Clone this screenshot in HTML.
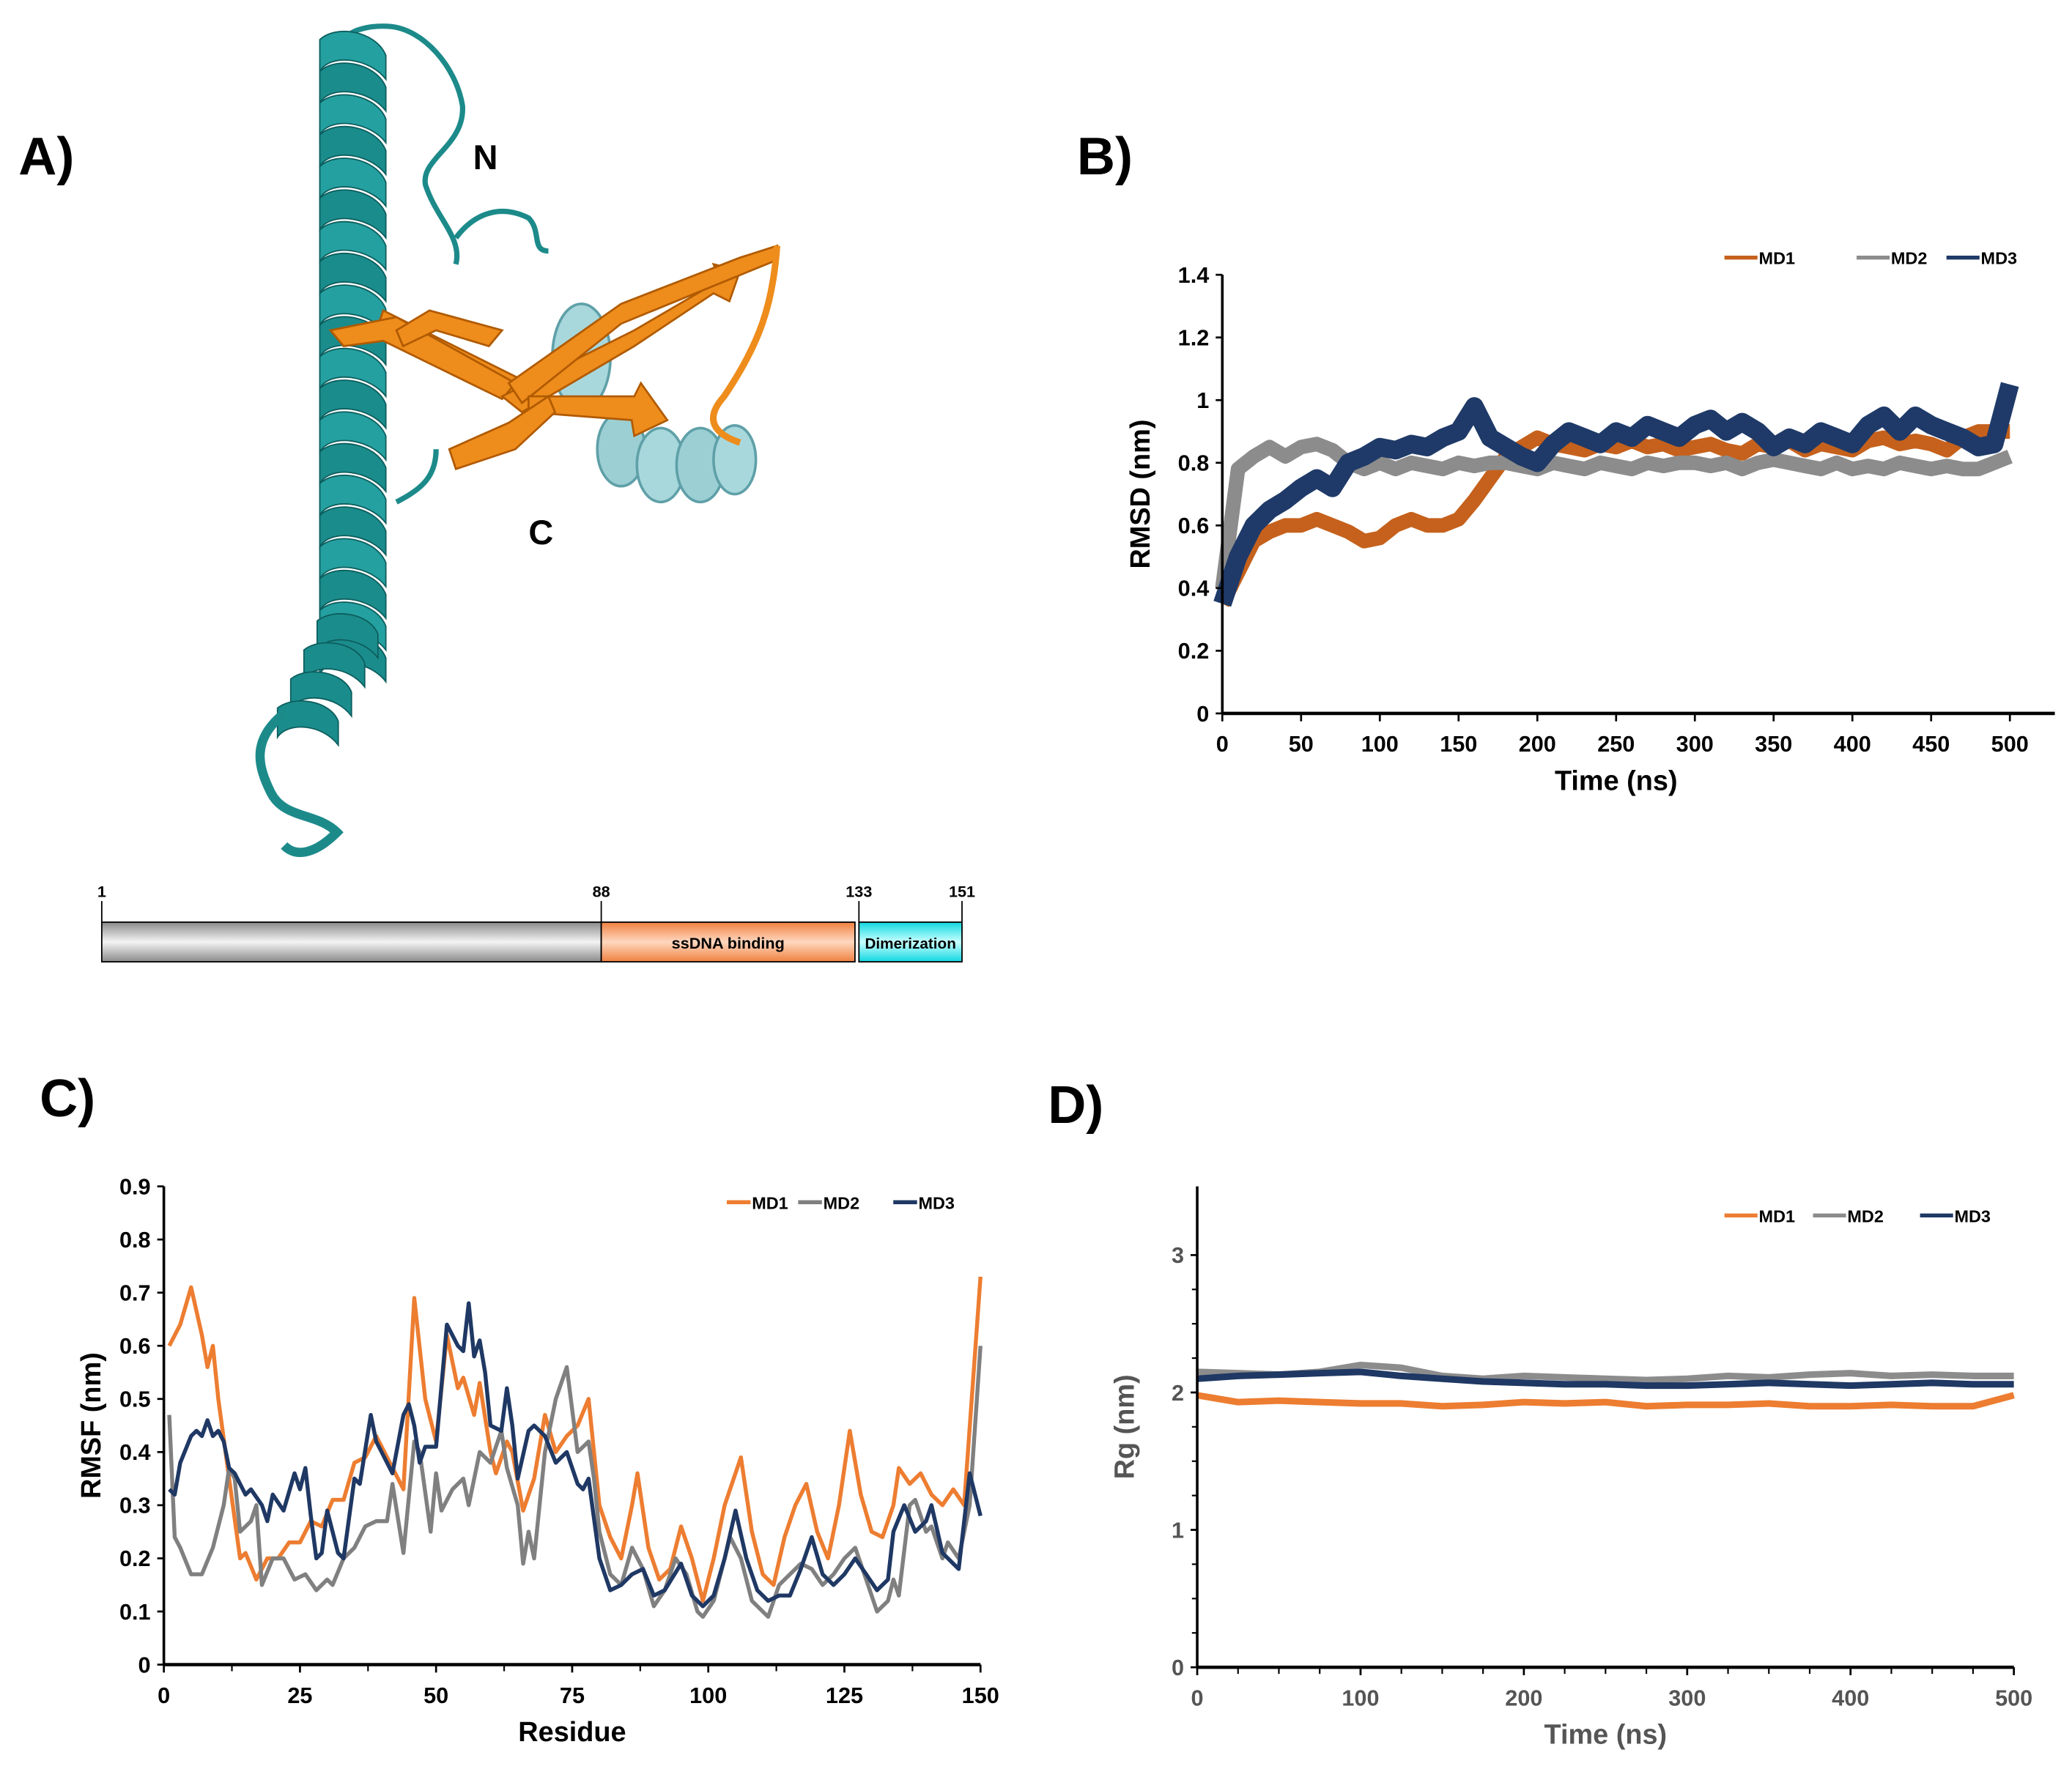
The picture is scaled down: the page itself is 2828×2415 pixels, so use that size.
<!DOCTYPE html>
<html><head><meta charset="utf-8">
<style>html,body{margin:0;padding:0;background:#fff;}svg{display:block;}text{font-family:"Liberation Sans",Arial,sans-serif;font-weight:bold;}</style>
</head><body>
<svg id="fig" width="2828" height="2415" viewBox="0 0 1568 1339" xmlns="http://www.w3.org/2000/svg">
<defs>
<linearGradient id="gGray" x1="0" y1="0" x2="0" y2="1"><stop offset="0" stop-color="#8a8a8a"/><stop offset="0.5" stop-color="#f4f4f4"/><stop offset="1" stop-color="#8a8a8a"/></linearGradient>
<linearGradient id="gOr" x1="0" y1="0" x2="0" y2="1"><stop offset="0" stop-color="#f08040"/><stop offset="0.5" stop-color="#ffd8c0"/><stop offset="1" stop-color="#f08040"/></linearGradient>
<linearGradient id="gCy" x1="0" y1="0" x2="0" y2="1"><stop offset="0" stop-color="#10d8e0"/><stop offset="0.5" stop-color="#c8ffff"/><stop offset="1" stop-color="#10d8e0"/></linearGradient>
</defs>
<text x="14" y="132" font-size="40">A)</text>
<text x="815" y="132" font-size="40">B)</text>
<text x="30" y="845" font-size="40">C)</text>
<text x="793" y="850" font-size="40">D)</text>

<g>
  <path d="M265,40 C250,30 270,18 295,20 C320,22 345,50 350,80 C352,110 318,120 322,140 C330,165 350,180 345,200" fill="none" stroke="#1d8a8a" stroke-width="4"/>
  <path d="M345,180 C360,160 380,155 400,165 C410,175 402,190 415,190" fill="none" stroke="#1d8a8a" stroke-width="4"/>
  <g id="helix"></g>
  <path d="M300,380 C320,370 330,360 330,340" fill="none" stroke="#1d8a8a" stroke-width="4"/>
  <path d="M215,540 C190,560 195,580 205,600 C215,620 240,615 255,630 C240,645 225,650 215,640" fill="none" stroke="#1d8a8a" stroke-width="7"/>
  <g>
    <ellipse cx="440" cy="270" rx="22" ry="40" fill="#a8d8dc" stroke="#5fa0a8" stroke-width="2"/>
    <ellipse cx="470" cy="340" rx="18" ry="28" fill="#9ccfd4" stroke="#5fa0a8" stroke-width="2"/>
    <ellipse cx="500" cy="352" rx="18" ry="28" fill="#a8d8dc" stroke="#5fa0a8" stroke-width="2"/>
    <ellipse cx="530" cy="352" rx="18" ry="28" fill="#9ccfd4" stroke="#5fa0a8" stroke-width="2"/>
    <ellipse cx="556" cy="348" rx="16" ry="26" fill="#a8d8dc" stroke="#5fa0a8" stroke-width="2"/>
  </g>
  <g fill="#ee8c1c" stroke="#b05a00" stroke-width="1.5">
    <polygon points="290,235 400,290 410,300 395,305 285,250"/>
    <polygon points="250,250 300,240 390,290 380,302 290,258 260,262"/>
    <polygon points="380,300 480,250 545,212 540,200 560,205 552,228 540,222 480,262 395,312"/>
    <polygon points="385,290 470,230 560,195 588,186 585,198 470,245 395,305"/>
    <polygon points="400,300 480,300 485,290 505,318 480,330 478,318 400,312"/>
    <polygon points="340,340 385,320 415,300 420,312 390,340 345,355"/>
    <polygon points="300,250 325,235 380,250 370,262 330,250 305,262"/>
  </g>
  <path d="M588,186 C585,230 575,260 548,300 C530,320 545,330 560,335" fill="none" stroke="#ee8c1c" stroke-width="5"/>
  <text x="358" y="128" font-size="26">N</text>
  <text x="400" y="412" font-size="26">C</text>
</g>

<g>
  <rect x="77" y="698" width="378" height="30" fill="url(#gGray)" stroke="#000" stroke-width="1"/>
  <rect x="455" y="698" width="192" height="30" fill="url(#gOr)" stroke="#000" stroke-width="1"/>
  <rect x="650" y="698" width="78" height="30" fill="url(#gCy)" stroke="#000" stroke-width="1"/>
  <text x="551" y="718" font-size="12" text-anchor="middle">ssDNA binding</text>
  <text x="689" y="718" font-size="11.5" text-anchor="middle">Dimerization</text>
  <g stroke="#000" stroke-width="1"><line x1="77" y1="682" x2="77" y2="698"/><line x1="455" y1="682" x2="455" y2="698"/><line x1="650" y1="682" x2="650" y2="698"/><line x1="728" y1="682" x2="728" y2="698"/></g>
  <g font-size="12" text-anchor="middle"><text x="77" y="679">1</text><text x="455" y="679">88</text><text x="650" y="679">133</text><text x="728" y="679">151</text></g>
</g>

<g id="chartB"></g>
<g id="chartC"></g>
<g id="chartD"></g>
</svg>
<script>
const rmsdTime = [0,10,20,30,40,50,60,70,80,90,100,110,120,130,140,150,160,170,180,190,200,210,220,230,240,250,260,270,280,290,300,310,320,330,340,350,360,370,380,390,400,410,420,430,440,450,460,470,480,490,500];
const rmsdMD1 = [0.35,0.45,0.55,0.58,0.6,0.6,0.62,0.6,0.58,0.55,0.56,0.6,0.62,0.6,0.6,0.62,0.68,0.75,0.82,0.85,0.88,0.86,0.85,0.84,0.86,0.85,0.87,0.85,0.86,0.84,0.85,0.86,0.84,0.83,0.86,0.85,0.87,0.84,0.86,0.85,0.84,0.87,0.88,0.86,0.87,0.86,0.84,0.88,0.9,0.9,0.9];
const rmsdMD2 = [0.4,0.78,0.82,0.85,0.82,0.85,0.86,0.84,0.8,0.78,0.8,0.78,0.8,0.79,0.78,0.8,0.79,0.8,0.8,0.79,0.78,0.8,0.79,0.78,0.8,0.79,0.78,0.8,0.79,0.8,0.8,0.79,0.8,0.78,0.8,0.81,0.8,0.79,0.78,0.8,0.78,0.79,0.78,0.8,0.79,0.78,0.79,0.78,0.78,0.8,0.82];
const rmsdMD3 = [0.35,0.5,0.6,0.65,0.68,0.72,0.75,0.72,0.8,0.82,0.85,0.84,0.86,0.85,0.88,0.9,0.98,0.88,0.85,0.82,0.8,0.86,0.9,0.88,0.86,0.9,0.88,0.92,0.9,0.88,0.92,0.94,0.9,0.93,0.9,0.85,0.88,0.86,0.9,0.88,0.86,0.92,0.95,0.9,0.95,0.92,0.9,0.88,0.85,0.86,1.05];
const rmsdYTicks = ["0","0.2","0.4","0.6","0.8","1","1.2","1.4"];
const rmsdXTicks = ["0","50","100","150","200","250","300","350","400","450","500"];
const resMD1 = [1,3,5,7,8,9,10,12,14,15,17,19,21,23,25,27,29,31,33,35,37,39,41,43,44,46,48,50,52,54,55,57,58,60,61,63,64,66,68,70,72,74,76,78,80,82,84,86,87,89,91,93,95,97,99,101,103,106,108,110,112,114,116,118,120,122,124,126,128,130,132,134,135,137,139,141,143,145,147,150];
const rmsfMD1 = [0.6,0.64,0.71,0.62,0.56,0.6,0.5,0.35,0.2,0.21,0.16,0.2,0.2,0.23,0.23,0.27,0.26,0.31,0.31,0.38,0.39,0.43,0.39,0.35,0.33,0.69,0.5,0.42,0.62,0.52,0.54,0.47,0.53,0.4,0.36,0.42,0.4,0.29,0.35,0.47,0.4,0.43,0.45,0.5,0.3,0.24,0.2,0.3,0.36,0.22,0.16,0.18,0.26,0.2,0.12,0.2,0.3,0.39,0.25,0.17,0.15,0.24,0.3,0.34,0.25,0.2,0.3,0.44,0.32,0.25,0.24,0.3,0.37,0.34,0.36,0.32,0.3,0.33,0.3,0.73];
const resMD2 = [1,2,3,5,7,9,11,12,13,14,16,17,18,20,22,24,26,28,30,31,33,35,37,39,41,42,44,46,47,49,50,51,53,55,56,58,60,62,63,65,66,67,68,70,72,74,76,78,79,80,82,84,86,88,90,92,94,96,98,99,101,104,106,108,110,111,113,115,117,119,121,123,125,127,129,131,133,134,135,137,138,140,141,143,144,146,148,150];
const rmsfMD2 = [0.47,0.24,0.22,0.17,0.17,0.22,0.3,0.37,0.35,0.25,0.27,0.3,0.15,0.2,0.2,0.16,0.17,0.14,0.16,0.15,0.2,0.22,0.26,0.27,0.27,0.34,0.21,0.42,0.4,0.25,0.36,0.29,0.33,0.35,0.3,0.4,0.38,0.44,0.37,0.3,0.19,0.25,0.2,0.4,0.5,0.56,0.4,0.42,0.35,0.25,0.17,0.15,0.22,0.18,0.11,0.14,0.2,0.17,0.1,0.09,0.12,0.24,0.2,0.12,0.1,0.09,0.15,0.17,0.19,0.18,0.15,0.17,0.2,0.22,0.16,0.1,0.12,0.16,0.13,0.3,0.31,0.25,0.26,0.2,0.23,0.2,0.3,0.6];
const resMD3 = [1,2,3,5,6,7,8,9,10,11,12,13,15,16,18,19,20,22,24,25,26,27,28,29,30,32,33,35,36,38,39,40,42,44,45,46,47,48,50,52,54,55,56,57,58,59,60,62,63,64,65,67,68,70,72,74,76,77,78,80,82,84,86,88,90,92,95,97,99,101,103,105,107,109,111,113,115,117,119,121,123,125,127,129,131,133,134,136,138,140,141,143,145,146,148,150];
const rmsfMD3 = [0.33,0.32,0.38,0.43,0.44,0.43,0.46,0.43,0.44,0.42,0.37,0.36,0.32,0.33,0.3,0.27,0.32,0.29,0.36,0.33,0.37,0.28,0.2,0.21,0.29,0.21,0.2,0.35,0.34,0.47,0.42,0.4,0.36,0.47,0.49,0.45,0.38,0.41,0.41,0.64,0.6,0.59,0.68,0.58,0.61,0.55,0.45,0.44,0.52,0.45,0.35,0.44,0.45,0.43,0.38,0.4,0.34,0.33,0.35,0.2,0.14,0.15,0.17,0.18,0.13,0.14,0.19,0.13,0.11,0.13,0.2,0.29,0.2,0.14,0.12,0.13,0.13,0.18,0.24,0.17,0.15,0.17,0.2,0.17,0.14,0.16,0.25,0.3,0.25,0.27,0.3,0.21,0.19,0.18,0.36,0.28];
const rmsfYTicks = ["0","0.1","0.2","0.3","0.4","0.5","0.6","0.7","0.8","0.9"];
const rmsfXTicks = ["0","25","50","75","100","125","150"];
const rgTime = [0,25,50,75,100,125,150,175,200,225,250,275,300,325,350,375,400,425,450,475,500];
const rgMD1 = [1.98,1.93,1.94,1.93,1.92,1.92,1.9,1.91,1.93,1.92,1.93,1.9,1.91,1.91,1.92,1.9,1.9,1.91,1.9,1.9,1.98];
const rgMD2 = [2.15,2.14,2.13,2.15,2.2,2.18,2.12,2.1,2.12,2.11,2.1,2.09,2.1,2.12,2.11,2.13,2.14,2.12,2.13,2.12,2.12];
const rgMD3 = [2.1,2.12,2.13,2.14,2.15,2.12,2.1,2.08,2.07,2.06,2.06,2.05,2.05,2.06,2.07,2.06,2.05,2.06,2.07,2.06,2.06];
const rgYTicks = ["0","1","2","3"];
const rgXTicks = ["0","100","200","300","400","500"];

const NS='http://www.w3.org/2000/svg';
function mk(tag,attrs,parent){const e=document.createElementNS(NS,tag);for(const k in attrs)e.setAttribute(k,attrs[k]);parent.appendChild(e);return e;}

(function(){
  const g=document.getElementById('helix');
  for(let y=30;y<=500;y+=24){
    const el=mk('path',{d:`M242,${y} C255,${y-12} 285,${y-6} 292,${y+12} L292,${y+30} C280,${y+14} 250,${y+10} 242,${y+24} Z`,fill:(y/24)%2<1?'#1b8c8c':'#25a0a0',stroke:'#0d5e5e','stroke-width':1},g);
    
    
  }
  for(let i=0;i<4;i++){
    const y=470+i*22, x=262-i*10;
    const el=mk('path',{d:`M${x-22},${y} C${x-10},${y-10} ${x+18},${y-6} ${x+24},${y+10} L${x+24},${y+28} C${x+12},${y+12} ${x-14},${y+10} ${x-22},${y+22} Z`,fill:'#1b8c8c',stroke:'#0d5e5e','stroke-width':1},g);
    
    
  }
})();

function chart(gid,cfg){
  const g=document.getElementById(gid);
  const sx=v=>cfg.x0+(v-cfg.xmin)/(cfg.xmax-cfg.xmin)*(cfg.x1-cfg.x0);
  const sy=v=>cfg.y0-(v-cfg.ymin)/(cfg.ymax-cfg.ymin)*(cfg.y0-cfg.y1);
  cfg.series.forEach(s=>{
    const pts=s.x.map((xv,i)=>sx(xv).toFixed(1)+','+sy(s.y[i]).toFixed(1)).join(' ');
    const p=mk('polyline',{points:pts,fill:'none',stroke:s.color,'stroke-width':s.w,'stroke-linejoin':'round'},g);
    
    
  });
  const ya=mk('line',{x1:cfg.x0,y1:cfg.yTop,x2:cfg.x0,y2:cfg.y0,stroke:'#000','stroke-width':2},g);
  
  
  const xa=mk('line',{x1:cfg.x0,y1:cfg.y0,x2:cfg.xEnd,y2:cfg.y0,stroke:'#000','stroke-width':2.5},g);
  
  
  cfg.yTicks.forEach(t=>{
    const y=sy(parseFloat(t));
    mk('line',{x1:cfg.x0-5,y1:y,x2:cfg.x0,y2:y,stroke:'#000','stroke-width':1.5},g);
    const tx=mk('text',{x:cfg.x0-10,y:y+6,'font-size':cfg.fs,'text-anchor':'end',fill:cfg.tickColor},g);
    tx.textContent=t;
    
    
  });
  if(cfg.yMinor){for(let v=cfg.ymin;v<=cfg.ymax+1e-9;v+=cfg.yMinor){mk('line',{x1:cfg.x0-4,y1:sy(v),x2:cfg.x0,y2:sy(v),stroke:'#000','stroke-width':1.2},g);}}
  cfg.xTicks.forEach(t=>{
    const x=sx(parseFloat(t));
    mk('line',{x1:x,y1:cfg.y0,x2:x,y2:cfg.y0+6,stroke:'#000','stroke-width':1.5},g);
    const tx=mk('text',{x:x,y:cfg.y0+29,'font-size':cfg.fs,'text-anchor':'middle',fill:cfg.tickColor},g);
    tx.textContent=t;
    
    
  });
  if(cfg.xMinor){for(let v=cfg.xmin;v<=cfg.xmax+1e-9;v+=cfg.xMinor){mk('line',{x1:sx(v),y1:cfg.y0,x2:sx(v),y2:cfg.y0+5,stroke:'#000','stroke-width':1.2},g);}}
  const xt=mk('text',{x:(cfg.x0+cfg.x1)/2,y:cfg.y0+58,'font-size':21,'text-anchor':'middle',fill:cfg.titleColor},g);
  xt.textContent=cfg.xTitle;
  
  
  const yy=(cfg.y0+cfg.yTop)/2;
  const yt=mk('text',{x:cfg.yTitleX,y:yy,'font-size':21,'text-anchor':'middle',fill:cfg.titleColor,transform:`rotate(-90 ${cfg.yTitleX} ${yy})`},g);
  yt.textContent=cfg.yTitle;
  
  
  const L=cfg.legLen||25;
  cfg.series.forEach((s,i)=>{
    const lx=cfg.legX[i];
    const ln=mk('line',{x1:lx,y1:cfg.legY,x2:lx+L,y2:cfg.legY,stroke:s.color,'stroke-width':3},g);
    
    
    const lt=mk('text',{x:lx+L+1,y:cfg.legY+5,'font-size':13},g);
    lt.textContent=s.name;
    
    
  });
}

chart('chartB',{x0:925,x1:1521,xEnd:1555,y0:540,y1:208,yTop:208,xmin:0,xmax:500,ymin:0,ymax:1.4,fs:17,tickColor:'#000',titleColor:'#000',
  yTicks:rmsdYTicks,xTicks:rmsdXTicks,xTitle:'Time (ns)',yTitle:'RMSD (nm)',yTitleX:870,legY:195,legX:[1305,1405,1473],
  series:[{name:'MD1',x:rmsdTime,y:rmsdMD1,color:'#c5611c',w:11},{name:'MD2',x:rmsdTime,y:rmsdMD2,color:'#8c8c8c',w:11},{name:'MD3',x:rmsdTime,y:rmsdMD3,color:'#1f3a68',w:14}]});
chart('chartC',{x0:124,x1:742,xEnd:742,y0:1260,y1:898,yTop:898,xmin:0,xmax:150,ymin:0,ymax:0.9,fs:17,tickColor:'#000',titleColor:'#000',
  yTicks:rmsfYTicks,xTicks:rmsfXTicks,xMinor:12.5,xTitle:'Residue',yTitle:'RMSF (nm)',yTitleX:76,legY:910,legX:[550,604,676],legLen:18,
  series:[{name:'MD1',x:resMD1,y:rmsfMD1,color:'#ed7d31',w:3},{name:'MD2',x:resMD2,y:rmsfMD2,color:'#808080',w:3},{name:'MD3',x:resMD3,y:rmsfMD3,color:'#1f3864',w:3}]});
chart('chartD',{x0:906,x1:1524,xEnd:1524,y0:1262,y1:950,yTop:898,xmin:0,xmax:500,ymin:0,ymax:3,fs:17,tickColor:'#555',titleColor:'#555',
  yTicks:rgYTicks,xTicks:rgXTicks,yMinor:0.25,xMinor:25,xTitle:'Time (ns)',yTitle:'Rg (nm)',yTitleX:858,legY:920,legX:[1305,1372,1453],
  series:[{name:'MD1',x:rgTime,y:rgMD1,color:'#ed7d31',w:5},{name:'MD2',x:rgTime,y:rgMD2,color:'#8c8c8c',w:5},{name:'MD3',x:rgTime,y:rgMD3,color:'#1f3864',w:5}]});
</script>
</body></html>
